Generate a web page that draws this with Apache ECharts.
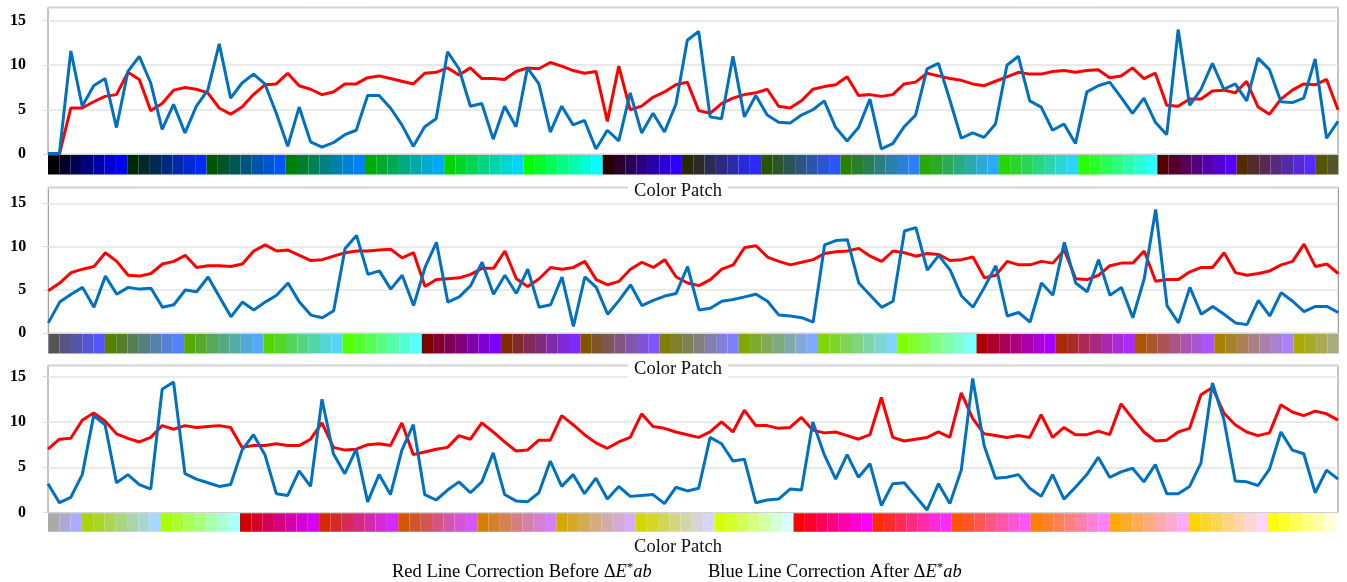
<!DOCTYPE html>
<html>
<head>
<meta charset="utf-8">
<script src="https://cdn.jsdelivr.net/npm/echarts@6/dist/echarts.min.js"></script>
<style>
html,body{margin:0;padding:0;background:#fff}
#chart{width:1347px;height:582px}
</style>
</head>
<body>
<div id="chart"></div>
<script>
// ΔE*ab per colour patch (before = red, after = blue)
const redTop = [0,0,5.2,5.2,5.9,6.5,6.7,9.2,8.4,4.9, 5.7,7.2,7.5,7.3,6.9,5.2,4.5,5.3,6.7,7.8, 7.9,9.1,7.7,7.3,6.7,7.0,7.9,7.9,8.6,8.8, 8.5,8.2,7.9,9.1,9.2,9.7,8.9,9.7,8.5,8.5, 8.4,9.3,9.7,9.6,10.3,9.9,9.4,9.1,9.3,3.7, 9.9,5.0,5.4,6.4,7.0,7.8,8.1,4.9,4.6,5.7, 6.3,6.7,6.9,7.3,5.4,5.2,6.0,7.3,7.6,7.8, 8.7,6.6,6.7,6.5,6.7,7.9,8.1,9.1,8.8,8.5, 8.3,7.9,7.7,8.2,8.7,9.2,9.0,9.0,9.3,9.4, 9.2,9.4,9.5,8.6,8.8,9.7,8.5,9.1,5.5,5.4, 6.2,6.2,7.1,7.2,6.9,8.2,5.3,4.5,6.2,7.2, 7.9,7.8,8.4,5.0];
const blueTop = [0.1,0.1,11.6,5.4,7.7,8.5,3.0,9.3,11.0,8.0, 2.8,5.6,2.4,5.4,7.2,12.4,6.3,8.0,9.0,7.9, 4.6,0.9,5.3,1.4,0.8,1.3,2.2,2.7,6.6,6.6, 5.2,3.3,0.9,3.1,4.0,11.5,9.6,5.4,5.7,1.7, 5.4,3.1,9.7,7.9,2.5,5.4,3.3,3.8,0.6,2.7, 1.5,6.9,2.4,4.6,2.5,5.6,12.8,13.8,4.2,4.0, 11.0,4.2,6.6,4.4,3.6,3.5,4.4,5.0,6.0,3.0, 1.5,3.0,6.2,0.6,1.2,3.1,4.4,9.6,10.2,6.1, 1.8,2.4,1.9,3.4,10.0,11.0,6.0,5.3,2.7,3.4, 1.2,7.0,7.7,8.1,6.4,4.6,6.3,3.6,2.2,14.0, 5.5,7.3,10.2,7.3,7.9,6.0,10.8,9.5,5.9,5.8, 6.3,10.7,1.8,3.7];
const redMid = [4.9,5.8,7.0,7.4,7.7,9.3,8.3,6.7,6.6,6.9, 8.0,8.3,9.0,7.6,7.8,7.8,7.7,8.0,9.5,10.2, 9.5,9.6,9.0,8.4,8.5,8.9,9.3,9.5,9.5,9.6, 9.7,8.7,9.3,5.4,6.2,6.3,6.4,6.8,7.5,7.5, 9.5,6.3,5.4,6.3,7.6,7.4,7.6,8.3,6.2,5.6, 6.0,7.4,8.2,7.6,8.5,6.5,5.8,5.5,6.2,7.4, 7.9,9.9,10.1,8.8,8.3,7.9,8.2,8.5,9.2,9.4, 9.5,9.8,8.9,8.3,9.5,9.3,8.9,9.2,9.1,8.4, 8.5,8.8,6.4,6.7,8.3,7.9,7.9,8.3,8.1,9.6, 6.3,6.2,6.7,7.8,8.1,8.1,9.5,6.0,6.2,6.2, 7.1,7.6,7.6,9.3,7.0,6.7,6.9,7.2,7.9,8.3, 10.3,7.7,8.0,6.9];
const blueMid = [1.2,3.6,4.5,5.3,3.0,6.6,4.5,5.3,5.1,5.2, 3.0,3.3,5.0,4.8,6.5,4.2,1.9,3.6,2.7,3.6, 4.4,5.8,3.6,2.1,1.8,2.6,9.8,11.3,6.8,7.2, 5.1,6.7,3.2,7.6,10.5,3.6,4.2,5.5,8.2,4.5, 6.7,4.6,7.4,3.0,3.3,6.5,0.8,6.5,5.3,2.2, 3.8,5.6,3.2,3.8,4.3,4.6,7.7,2.7,2.9,3.7, 3.9,4.2,4.5,3.7,2.1,2.0,1.8,1.3,10.2,10.7, 10.8,5.8,4.4,3.0,3.7,11.8,12.2,7.3,9.0,7.3, 4.3,3.0,5.3,7.8,2.0,2.4,1.3,5.8,4.4,10.5, 5.8,4.8,8.5,4.4,5.3,1.8,6.3,14.3,3.2,1.2, 5.3,2.2,3.1,2.2,1.2,1.0,3.8,2.0,4.7,3.7, 2.5,3.1,3.1,2.4];
const redBot = [7.0,8.1,8.2,10.2,11.0,10.1,8.7,8.2,7.8,8.3, 9.6,9.2,9.6,9.4,9.5,9.6,9.4,7.2,7.4,7.4, 7.6,7.4,7.4,8.1,9.9,7.2,6.9,7.0,7.5,7.6, 7.4,9.9,6.4,6.7,7.0,7.2,8.5,8.1,9.9,8.9, 7.8,6.8,6.9,8.0,8.0,10.7,9.7,8.6,7.7,7.1, 7.8,8.3,10.9,9.5,9.3,8.9,8.6,8.3,8.9,10.0, 8.9,11.3,9.6,9.6,9.3,9.4,10.5,9.1,8.8,8.9, 8.5,8.1,8.6,12.7,8.3,7.9,8.1,8.3,8.9,8.3, 13.2,10.4,8.7,8.5,8.3,8.5,8.3,10.8,8.3,9.4, 8.6,8.6,9.0,8.6,12.0,10.4,8.9,7.9,8.0,8.9, 9.3,13.0,13.8,11.0,9.7,8.9,8.5,8.8,11.9,11.1, 10.7,11.2,10.9,10.2];
const blueBot = [3.2,1.1,1.7,4.2,10.7,9.7,3.3,4.2,3.1,2.6, 13.6,14.4,4.3,3.7,3.3,2.9,3.1,6.9,8.6,6.4, 2.1,1.9,4.6,2.9,12.5,6.5,4.3,7.0,1.2,4.2, 2.0,6.9,9.7,2.0,1.4,2.5,3.4,2.2,3.4,6.6, 2.0,1.3,1.2,2.2,5.7,2.9,4.2,2.1,3.8,1.5, 2.9,1.8,1.9,2.0,1.0,2.8,2.4,2.7,8.3,7.6, 5.7,5.9,1.1,1.4,1.5,2.6,2.5,10.0,6.4,3.7, 6.4,3.9,5.4,0.8,3.2,3.3,1.8,0.3,3.2,1.0, 4.7,14.8,7.4,3.8,3.9,4.2,2.7,1.8,4.2,1.5, 2.8,4.2,6.1,3.9,4.5,4.9,3.4,5.3,2.1,2.1, 2.9,5.5,14.3,10.3,3.5,3.4,3.0,4.8,8.9,6.9, 6.5,2.2,4.7,3.7];

// 7 levels per RGB channel -> 343 patches, split over the three rows
const levels = [0,42,85,128,170,213,255];
const patchStart = [0,114,228];
const patchCount = [114,114,115];
const yTicks = [0,5,10,15];
const xName = 'Color Patch';
const redName = 'Red Line Correction Before ';
const blueName = 'Blue Line Correction After ';

const reds = [redTop, redMid, redBot];
const blues = [blueTop, blueMid, blueBot];

// pixel layout of the three rows (patch cell is 11.32px wide)
const cell = 11.32;
const layout = [
	{left:48, width:1290, top:7.3, height:147, yMax:16.5, pTop:155, pH:19.5, nameY:191},
	{left:48.3, width:1290, top:187.3, height:146, yMax:16.85, pTop:334, pH:19.5, nameY:369},
	{left:48, width:1290, top:365.3, height:147.4, yMax:16.25, pTop:513.3, pH:18.5, nameY:547}
];

const serif = '"Liberation Serif","Times New Roman",serif';

function patchColor(k){
	let r=levels[Math.floor(k/49)];
	let g=levels[Math.floor(k/7)%7];
	let b=levels[k%7];
	return 'rgb('+r+','+g+','+b+')';
}

let grid=[], xAxis=[], yAxis=[], series=[], graphic=[];

for(let p=0;p<3;p++){
	let L=layout[p];
	let gi=grid.length;
	grid.push({left:L.left, width:L.width, top:L.top, height:L.height, show:true, borderColor:'#8a8a8a', borderWidth:1});
	grid.push({left:L.left, width:cell*patchCount[p], top:L.pTop, height:L.pH});

	let ids=reds[p].map((v,i)=>i+1);
	xAxis.push({gridIndex:gi, type:'category', data:ids, boundaryGap:false, show:false});
	yAxis.push({
		gridIndex:gi, type:'value', min:yTicks[0], max:L.yMax, interval:yTicks[1]-yTicks[0],
		axisLine:{show:false},
		axisTick:{show:true, length:5, lineStyle:{color:'#d9d9d9'}},
		axisLabel:{margin:22, showMaxLabel:false, color:'#000', fontFamily:serif, fontWeight:'bold', fontSize:16},
		splitLine:{lineStyle:{color:'#e3e3e3', width:1.5}}
	});

	let patches=[];
	for(let i=0;i<patchCount[p];i++){
		patches.push({value:1, itemStyle:{color:patchColor(patchStart[p]+i)}});
	}
	xAxis.push({gridIndex:gi+1, type:'category', data:patches.map((d,i)=>i+1), show:false});
	yAxis.push({gridIndex:gi+1, type:'value', min:0, max:1, show:false});

	series.push({type:'line', xAxisIndex:gi, yAxisIndex:gi, data:reds[p], symbol:'none',
		lineStyle:{color:'#ff0000', width:3}, itemStyle:{color:'#ff0000'}, z:2});
	series.push({type:'line', xAxisIndex:gi, yAxisIndex:gi, data:blues[p], symbol:'none',
		lineStyle:{color:'#0070c0', width:3}, itemStyle:{color:'#0070c0'}, z:3});
	series.push({type:'bar', xAxisIndex:gi+1, yAxisIndex:gi+1, data:patches, barWidth:'100%', barCategoryGap:'0%', silent:true});

	graphic.push({type:'text', x:678, y:L.nameY, z:100, style:{
		text:xName, font:'18.5px '+serif, fill:'#111', align:'center', verticalAlign:'middle',
		backgroundColor:'#fff', padding:[0,6]
	}});
}

const rich = {
	n:{fontFamily:serif, fontSize:18.5, color:'#111'},
	m:{fontFamily:serif, fontStyle:'italic', fontSize:18.5, color:'#111'},
	s:{fontFamily:serif, fontSize:13, color:'#111', padding:[0,0,9,0]}
};
graphic.push({type:'text', x:392, y:572, z:100, style:{
	text:'{n|'+redName+'}{n|Δ}{m|E}{s|*}{m|ab}', rich:rich, align:'left', verticalAlign:'middle'
}});
graphic.push({type:'text', x:708, y:572, z:100, style:{
	text:'{n|'+blueName+'}{n|Δ}{m|E}{s|*}{m|ab}', rich:rich, align:'left', verticalAlign:'middle'
}});

const chart = echarts.init(document.getElementById('chart'));
chart.setOption({
	animation:false,
	backgroundColor:'#fff',
	grid:grid,
	xAxis:xAxis,
	yAxis:yAxis,
	series:series,
	graphic:graphic
});
</script>
</body>
</html>
